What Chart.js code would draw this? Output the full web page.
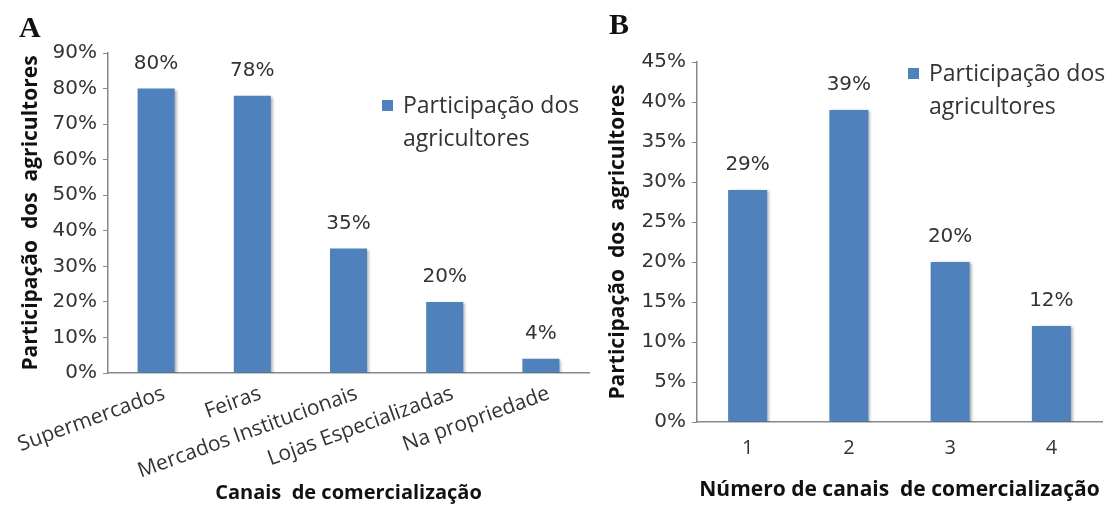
<!DOCTYPE html>
<html>
<head>
<meta charset="utf-8">
<script src="https://cdn.jsdelivr.net/npm/chart.js@4/dist/chart.umd.min.js"></script>
<style>
  body { margin: 0; background: #fff; }
  #wrap { position: relative; width: 1110px; height: 507px; }
  .box { position: absolute; top: 0; }
  .tag { position: absolute; font-family: "Liberation Serif", serif; font-weight: bold; font-size: 30px; color: #111; }
</style>
</head>
<body>
<div id="wrap">
  <div class="box" style="left:0"><canvas id="chartA" width="595" height="507"></canvas></div>
  <div class="box" style="left:600px"><canvas id="chartB" width="510" height="507"></canvas></div>
  <div class="tag" style="left:19px; top:10px">A</div>
  <div class="tag" style="left:609px; top:7px">B</div>
</div>
<script>
// chart A
const canais = ['Supermercados', 'Feiras', 'Mercados Institucionais', 'Lojas Especializadas', 'Na propriedade'];
const participacaoA = [80, 78, 35, 20, 4];

// chart B
const numCanais = ['1', '2', '3', '4'];
const participacaoB = [29, 39, 20, 12];

const serieNome = ['Participação dos', 'agricultores'];
const barColor = '#4F81BD';
const textColor = '#333';
const numFont = 'DejaVu Sans';
const txtFont = 'Open Sans';

// soft shadow on the right of bars
const shadowPlugin = {
  id: 'barShadow',
  beforeDatasetsDraw(chart) {
    const ctx = chart.ctx;
    ctx.save();
    ctx.shadowColor = 'rgba(0,0,0,0.35)';
    ctx.shadowBlur = 3;
    ctx.shadowOffsetX = 2;
    ctx.shadowOffsetY = 1;
  },
  afterDatasetsDraw(chart) {
    chart.ctx.restore();
  }
};

// value labels over the bars
const valuePlugin = {
  id: 'valueLabels',
  afterDatasetsDraw(chart) {
    const ctx = chart.ctx;
    const meta = chart.getDatasetMeta(0);
    const values = chart.data.datasets[0].data;
    ctx.save();
    ctx.font = '20px "' + numFont + '"';
    ctx.fillStyle = textColor;
    ctx.textAlign = 'center';
    ctx.textBaseline = 'alphabetic';
    meta.data.forEach((bar, i) => {
      ctx.fillText(values[i] + '%', bar.x, bar.y - 20);
    });
    ctx.restore();
  }
};

// two-line legend
const legendPlugin = {
  id: 'twoLineLegend',
  afterDraw(chart, args, opts) {
    const ctx = chart.ctx;
    const a = chart.chartArea;
    const x = a.right - opts.fromRight;
    const y = a.top + opts.fromTop;
    ctx.save();
    ctx.fillStyle = barColor;
    ctx.fillRect(x, y - 5, 11, 11);
    ctx.fillStyle = textColor;
    ctx.font = opts.size + 'px "' + txtFont + '"';
    ctx.textAlign = 'left';
    ctx.textBaseline = 'middle';
    ctx.fillText(serieNome[0], x + 21, y + 1);
    ctx.fillText(serieNome[1], x + 21, y + 34);
    ctx.restore();
  }
};

function makeChart(id, labels, values, o) {
  return new Chart(document.getElementById(id), {
    type: 'bar',
    data: {
      labels: labels,
      datasets: [{
        label: serieNome.join(' '),
        data: values,
        backgroundColor: barColor,
        barPercentage: 0.385,
        categoryPercentage: 1
      }]
    },
    plugins: [shadowPlugin, valuePlugin, legendPlugin],
    options: {
      responsive: false,
      animation: false,
      layout: { padding: { top: o.top, right: o.right, left: 0, bottom: 0 } },
      plugins: {
        legend: { display: false },
        tooltip: { enabled: false },
        twoLineLegend: o.legend
      },
      scales: {
        x: {
          grid: { display: false, drawTicks: false },
          border: { color: '#888', width: 1.5 },
          ticks: {
            color: textColor,
            font: { family: txtFont, size: o.xSize },
            minRotation: o.rot,
            maxRotation: o.rot,
            autoSkip: false,
            padding: o.xPad,
            labelOffset: o.xShift
          },
          title: {
            display: true,
            text: o.xTitle,
            color: '#111',
            font: { family: txtFont, size: o.xTitleSize, weight: 'bold' },
            padding: { top: 0, bottom: o.xTitlePad }
          },
          afterFit(scale) {
            scale.height = o.xHeight;
            scale.paddingLeft = 0;
            scale.paddingRight = 0;
          }
        },
        y: {
          min: 0,
          max: o.max,
          grid: { drawOnChartArea: false, drawTicks: true, tickLength: 5, color: '#888' },
          border: { color: '#888', width: 1.5 },
          ticks: {
            stepSize: o.step,
            color: textColor,
            padding: 6,
            font: { family: numFont, size: 20 },
            callback: v => v + '%'
          },
          title: {
            display: true,
            text: 'Participação  dos  agricultores',
            color: '#111',
            font: { family: txtFont, size: 21, weight: 'bold' },
            padding: { top: o.yTitlePad, bottom: 0 }
          },
          afterFit(scale) { scale.width = o.yWidth; }
        }
      }
    }
  });
}

makeChart('chartA', canais, participacaoA, {
  top: 53, right: 6, max: 90, step: 10,
  xSize: 21, rot: 20, xPad: 8, xShift: 8, xHeight: 134,
  xTitle: 'Canais  de comercialização', xTitleSize: 20, xTitlePad: 2,
  yWidth: 108, yTitlePad: 18,
  legend: { fromRight: 207, fromTop: 52, size: 23 }
});

makeChart('chartB', numCanais, participacaoB, {
  top: 62, right: 8, max: 45, step: 5,
  xSize: 20, rot: 0, xPad: 14, xShift: 0, xHeight: 85,
  xTitle: 'Número de canais  de comercialização', xTitleSize: 21, xTitlePad: 4,
  yWidth: 97, yTitlePad: 5,
  legend: { fromRight: 194, fromTop: 11, size: 23 }
});
</script>
</body>
</html>
